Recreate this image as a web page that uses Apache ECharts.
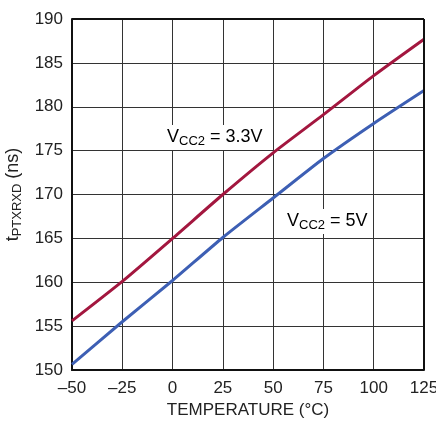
<!DOCTYPE html>
<html>
<head>
<meta charset="utf-8">
<script src="https://cdn.jsdelivr.net/npm/echarts@6/dist/echarts.min.js"></script>
<style>
html, body { margin: 0; padding: 0; background: #fff; }
#main { width: 436px; height: 423px; }
</style>
</head>
<body>
<div id="main"></div>
<script>
var temps = [-50, -25, 0, 25, 50, 75, 100, 125];
var vcc33 = [155.6, 160.1, 165.0, 170.0, 174.75, 179.1, 183.55, 187.7];
var vcc5 = [150.65, 155.5, 160.2, 165.1, 169.6, 174.1, 178.1, 181.85];

var font = '"Liberation Sans", Arial, sans-serif';

function pairs(xs, ys) {
    return xs.map(function(x, i) { return [x, ys[i]]; });
}

var labelRich = {
    t: { fontFamily: font, fontSize: 18, color: '#222' },
    s: { fontFamily: font, fontSize: 13, color: '#222', padding: [8, 0, 0, 0] }
};

var myChart = echarts.init(document.getElementById('main'));

var option = {
    animation: false,
    grid: { left: 72, right: 12, top: 19, bottom: 53, containLabel: false, outerBoundsMode: 'none' },
    xAxis: {
        type: 'value',
        min: -50, max: 125, interval: 25,
        name: 'TEMPERATURE (°C)',
        nameLocation: 'middle',
        nameGap: 32,
        nameTextStyle: { fontFamily: font, fontSize: 17, color: '#222' },
        axisLine: { show: true, onZero: false, lineStyle: { color: '#111', width: 2 } },
        axisTick: { show: false },
        axisLabel: {
            fontFamily: font, fontSize: 17, color: '#222', margin: 10,
            formatter: function(v) { return v < 0 ? '\u2013' + Math.abs(v) : '' + v; }
        },
        splitLine: { show: true, lineStyle: { color: '#333', width: 1 } }
    },
    yAxis: {
        type: 'value',
        min: 150, max: 190, interval: 5,
        name: '{t|t}{s|PTXRXD}{t| (ns)}',
        nameLocation: 'middle',
        nameRotate: 90,
        nameGap: 47,
        nameTextStyle: {
            rich: {
                t: { fontFamily: font, fontSize: 18, color: '#222' },
                s: { fontFamily: font, fontSize: 13, color: '#222', padding: [8, 0, 0, 0] }
            }
        },
        axisLine: { show: true, onZero: false, lineStyle: { color: '#111', width: 2 } },
        axisTick: { show: false },
        axisLabel: { fontFamily: font, fontSize: 17, color: '#222', margin: 9 },
        splitLine: { show: true, lineStyle: { color: '#333', width: 1 } }
    },
    graphic: [
        {
            type: 'rect', z: 50,
            shape: { x: 424, y: 19, width: 0, height: 351 },
            style: { stroke: '#111', lineWidth: 2, fill: 'none' }
        },
        {
            type: 'rect', z: 50,
            shape: { x: 72, y: 19, width: 352, height: 0 },
            style: { stroke: '#111', lineWidth: 2, fill: 'none' }
        },
        {
            type: 'text', z: 60, left: 163, top: 125,
            style: {
                text: '{t|V}{s|CC2}{t| = 3.3V}',
                backgroundColor: '#fff', padding: [2, 4, 2, 4],
                rich: labelRich
            }
        },
        {
            type: 'text', z: 60, left: 283, top: 209,
            style: {
                text: '{t|V}{s|CC2}{t| = 5V}',
                backgroundColor: '#fff', padding: [2, 4, 2, 4],
                rich: labelRich
            }
        }
    ],
    series: [
        {
            name: 'VCC2 = 3.3V',
            type: 'line',
            data: pairs(temps, vcc33),
            smooth: 0.2,
            symbol: 'none',
            lineStyle: { color: '#a3173f', width: 3 }
        },
        {
            name: 'VCC2 = 5V',
            type: 'line',
            data: pairs(temps, vcc5),
            smooth: 0.2,
            symbol: 'none',
            lineStyle: { color: '#3d5fb4', width: 3 }
        }
    ]
};

myChart.setOption(option);
</script>
</body>
</html>
